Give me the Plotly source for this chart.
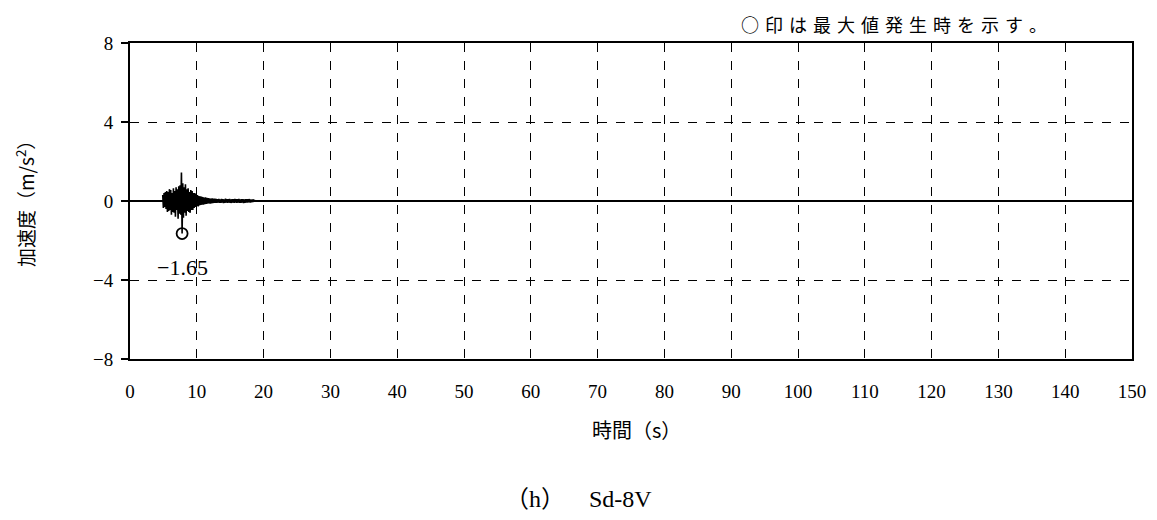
import plotly.graph_objects as go

# ---- data ----
t_start = 4.9
t_step = 0.1
accel = [
    0.30, -0.35, 0.40, -0.30, 0.45, -0.40, 0.50,
    -0.55, 0.45, -0.50, 0.60, -0.45, 0.55, -0.70, 0.40, -0.55, 0.65,
    -0.60, 0.50, -0.80, 0.70, -0.45, 0.60, -0.90, 0.75, -0.65, 0.80,
    -0.70, 1.44, -1.65, 0.90, -0.85, 0.70, -0.60, 0.85, -0.75, 0.60,
    -0.50, 0.65, -0.55, 0.45, -0.60, 0.55, -0.45, 0.50, -0.45, 0.40,
    -0.35, 0.40, -0.30, 0.35, -0.25, 0.30, -0.28, 0.25, -0.22, 0.24,
    -0.20, 0.22, -0.18, 0.20, -0.19, 0.17, -0.16, 0.18, -0.15, 0.16,
    -0.14, 0.15, -0.12, 0.14, -0.13, 0.12, -0.12, 0.13, -0.11, 0.12,
    -0.10, 0.12, -0.09, 0.11, -0.10, 0.09, -0.08, 0.11, -0.09, 0.08,
    -0.09, 0.11, -0.08, 0.10, -0.11, 0.08, -0.09, 0.12, -0.08, 0.09,
    -0.10, 0.09, -0.08, 0.11, -0.09, 0.08, -0.10, 0.09, -0.08, 0.10,
    -0.09, 0.11, -0.08, 0.09, -0.10, 0.09, -0.08, 0.11, -0.09, 0.08,
    -0.09, 0.10, -0.08, 0.09, -0.11, 0.08, -0.09, 0.10, -0.08, 0.09,
    -0.08, 0.09, -0.07, 0.10, -0.08, 0.07, -0.06, 0.08, -0.05, 0.05,
    0.03, -0.02, 0.00,
]
time = [round(t_start + i * t_step, 2) for i in range(len(accel))]

x_ticks = [0, 10, 20, 30, 40, 50, 60, 70, 80, 90, 100, 110, 120, 130, 140, 150]
y_ticks = [-8, -4, 0, 4, 8]
y_ticktext = ["−8", "−4", "0", "4", "8"]

peak_val = min(accel)
peak_time = time[accel.index(peak_val)]
peak_label = "−1.65"

serif = "Liberation Serif, Noto Sans CJK JP, serif"
jp = "Noto Sans CJK JP, sans-serif"

fig = go.Figure()
fig.add_trace(go.Scatter(x=time, y=accel, mode="lines",
                         line=dict(color="black", width=1.6),
                         showlegend=False, hoverinfo="skip"))
fig.add_trace(go.Scatter(x=[peak_time], y=[peak_val], mode="markers",
                         marker=dict(symbol="circle-open", size=11,
                                     color="black", line=dict(width=1.8)),
                         showlegend=False))

# page has an 8px body margin; screen plot area is x 130..1132, y 43..359
OFF = 8
SX0, SX1, SY0, SY1 = 130, 1132, 43, 359
W, H = 1157 - OFF, 520 - OFF
L, T = SX0 - OFF, SY0 - OFF
R = W - L - (SX1 - SX0)
B = H - T - (SY1 - SY0)

fig.update_layout(
    width=W, height=H,
    margin=dict(l=L, r=R, t=T, b=B, pad=0),
    paper_bgcolor="white", plot_bgcolor="white",
    font=dict(family=serif, size=19, color="black"),
)
fig.update_xaxes(
    range=[0, 150], tickvals=x_ticks, ticks="", ticklabelstandoff=14,
    showgrid=True, gridcolor="black", griddash="dash", gridwidth=1.4,
    showline=True, linecolor="black", linewidth=2, mirror=True,
    zeroline=False, tickfont=dict(family=serif, size=19),
)
fig.update_yaxes(
    range=[-8, 8], tickvals=y_ticks, ticktext=y_ticktext,
    ticks="outside", ticklen=7,
    tickcolor="black", tickwidth=1.5, ticklabelstandoff=4,
    showgrid=True, gridcolor="black", griddash="dash", gridwidth=1.4,
    showline=True, linecolor="black", linewidth=2, mirror=True,
    zeroline=True, zerolinecolor="black", zerolinewidth=2,
    tickfont=dict(family=serif, size=19),
)

def px(xs, ys):
    return (xs - SX0) / (SX1 - SX0), (SY1 - ys) / (SY1 - SY0)

sp = "\u2004"
note = sp.join(list("○印は最大値発生時を示す。"))

anns = []
ax, ay = px(182, 267)
anns.append(dict(x=ax, y=ay, text=peak_label, font=dict(family=serif, size=22),
                 xanchor="center", yanchor="middle"))
ax, ay = px(1049, 24)
anns.append(dict(x=ax, y=ay, text=note, font=dict(family=jp, size=18),
                 xanchor="right", yanchor="middle"))
ax, ay = px(636, 429)
anns.append(dict(x=ax, y=ay, text="時間（s）", font=dict(family=jp, size=20),
                 xanchor="center", yanchor="middle"))
ax, ay = px(25, 199)
anns.append(dict(x=ax, y=ay, text="加速度（m/s<sup>2</sup>）", textangle=-90,
                 font=dict(family=jp, size=19), xanchor="center", yanchor="middle"))
ax, ay = px(578, 499)
anns.append(dict(x=ax, y=ay, text="（h）　  Sd-8V", font=dict(family=serif, size=24),
                 xanchor="center", yanchor="middle"))
for a in anns:
    a.update(xref="paper", yref="paper", showarrow=False)
fig.update_layout(annotations=anns)

fig.write_html("out.html")
